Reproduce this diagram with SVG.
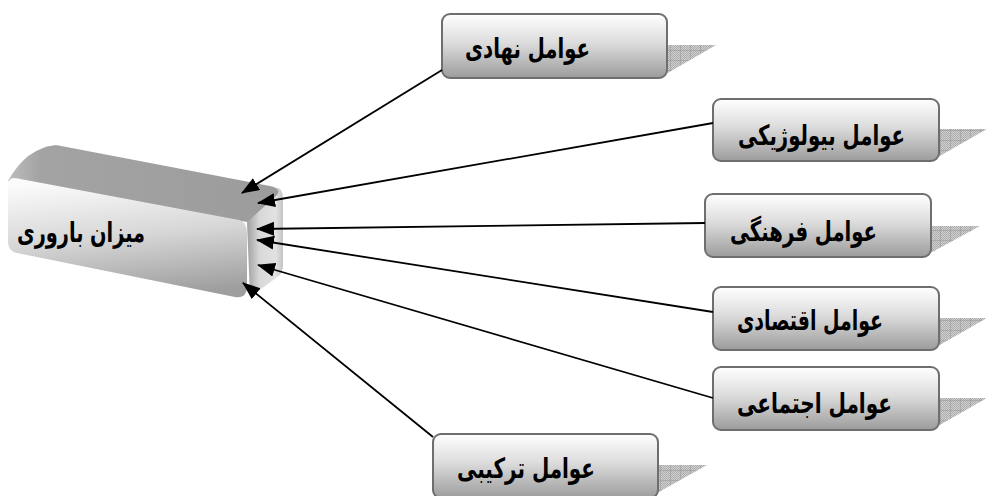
<svg xmlns="http://www.w3.org/2000/svg" width="986" height="496" viewBox="0 0 986 496">
  <defs>
    <linearGradient id="boxGrad" x1="0" y1="0" x2="0" y2="1">
      <stop offset="0" stop-color="#ffffff"/>
      <stop offset="0.45" stop-color="#dcdcdc"/>
      <stop offset="1" stop-color="#9c9c9c"/>
    </linearGradient>
    <linearGradient id="frontGrad" x1="0.35" y1="0" x2="0.55" y2="1">
      <stop offset="0" stop-color="#fbfbfb"/>
      <stop offset="0.5" stop-color="#d6d6d6"/>
      <stop offset="1" stop-color="#9e9e9e"/>
    </linearGradient>
    <linearGradient id="topGrad" x1="0" y1="0" x2="1" y2="0">
      <stop offset="0" stop-color="#bdbdbd"/>
      <stop offset="0.12" stop-color="#a3a3a3"/>
      <stop offset="1" stop-color="#9c9c9c"/>
    </linearGradient>
    <linearGradient id="sideGrad" x1="0" y1="0" x2="1" y2="0">
      <stop offset="0" stop-color="#a0a0a0"/>
      <stop offset="0.35" stop-color="#d8d8d8"/>
      <stop offset="0.8" stop-color="#e2e2e2"/>
      <stop offset="1" stop-color="#c4c4c4"/>
    </linearGradient>
    <pattern id="dither" width="2" height="2" patternUnits="userSpaceOnUse">
      <rect width="2" height="2" fill="#d0d0d0"/>
      <rect width="1" height="1" fill="#adadad"/>
      <rect x="1" y="1" width="1" height="1" fill="#adadad"/>
    </pattern>
    <pattern id="grid" width="10" height="10" patternUnits="userSpaceOnUse">
      <rect width="10" height="10" fill="url(#dither)"/>
      <path d="M0,0 H10 M0,0 V10" stroke="#959595" stroke-width="1" fill="none"/>
    </pattern>
    <marker id="arrow" markerUnits="userSpaceOnUse" markerWidth="20" markerHeight="15" refX="17" refY="7" orient="auto">
      <path d="M0,0 L18,7 L0,14 Z" fill="#000"/>
    </marker>
  </defs>
  <style>
    .box { fill: url(#boxGrad); stroke: #6e6e6e; stroke-width: 2; }
    .shadow { fill: url(#grid); }
    .lbl { font-family: "DejaVu Sans", sans-serif; font-weight: bold; font-size: 28px; fill: #000; text-anchor: end; }
    .conn { stroke: #000; stroke-width: 1.8; fill: none; marker-end: url(#arrow); }
  </style>

  <g id="node-main">
    <path d="M247,222 L273,188 Q283,185 283,199 L283,266 Q283,273 276,278 L250,297 Z" fill="url(#sideGrad)"/>
    <path d="M8,181 Q26,148 56,145 L270,186 Q283,189 276,196 L247,222 Z" fill="url(#topGrad)"/>
    <path d="M15,178 L239,220 Q247,222 247,233 L247,286 Q247,299 235,297 L17,253 Q8,251 8,242 L8,187 Q8,177 15,178 Z" fill="url(#frontGrad)"/>
    <text class="lbl" x="145" y="242" textLength="128" lengthAdjust="spacingAndGlyphs">میزان باروری</text>
  </g>

  <g id="node-nahadi">
    <polygon class="shadow" points="659,45 716,45 659,78"/>
    <rect class="box" x="442" y="14" width="225" height="64" rx="8"/>
    <text class="lbl" x="590" y="58" textLength="125" lengthAdjust="spacingAndGlyphs">عوامل نهادی</text>
  </g>

  <g id="node-biology">
    <polygon class="shadow" points="931,129 987,129 931,161"/>
    <rect class="box" x="713" y="99" width="226" height="62" rx="8"/>
    <text class="lbl" x="905" y="145" textLength="167" lengthAdjust="spacingAndGlyphs">عوامل بیولوژیکی</text>
  </g>

  <g id="node-farhangi">
    <polygon class="shadow" points="923,226 980,226 923,257"/>
    <rect class="box" x="705" y="194" width="226" height="63" rx="8"/>
    <text class="lbl" x="877" y="241" textLength="147" lengthAdjust="spacingAndGlyphs">عوامل فرهنگی</text>
  </g>

  <g id="node-eghtesadi">
    <polygon class="shadow" points="931,318 987,318 931,350"/>
    <rect class="box" x="713" y="287" width="226" height="63" rx="8"/>
    <text class="lbl" x="883" y="330" textLength="146" lengthAdjust="spacingAndGlyphs">عوامل اقتصادی</text>
  </g>

  <g id="node-ejtemaei">
    <polygon class="shadow" points="931,398 987,398 931,430"/>
    <rect class="box" x="713" y="367" width="226" height="63" rx="8"/>
    <text class="lbl" x="892" y="413" textLength="155" lengthAdjust="spacingAndGlyphs">عوامل اجتماعی</text>
  </g>

  <g id="node-tarkibi">
    <polygon class="shadow" points="650,465 707,465 650,497"/>
    <rect class="box" x="433" y="434" width="225" height="64" rx="8"/>
    <text class="lbl" x="595" y="478" textLength="138" lengthAdjust="spacingAndGlyphs">عوامل ترکیبی</text>
  </g>

  <g id="connectors">
    <line class="conn" x1="442" y1="70" x2="242" y2="193"/>
    <line class="conn" x1="713" y1="123" x2="258" y2="203"/>
    <line class="conn" x1="705" y1="223" x2="257" y2="229"/>
    <line class="conn" x1="713" y1="312" x2="257" y2="240"/>
    <line class="conn" x1="713" y1="398" x2="258" y2="265"/>
    <line class="conn" x1="433" y1="437" x2="243" y2="283"/>
  </g>
</svg>
